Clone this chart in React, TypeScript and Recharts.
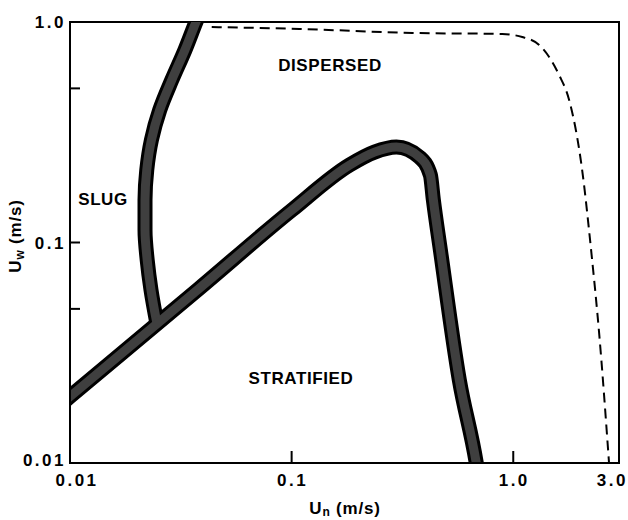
import React from "react";
import {
  LineChart,
  Line,
  XAxis,
  YAxis,
  ReferenceArea,
  Customized,
} from "recharts";

// slug / dispersed boundary
const slugUn = [0.0381, 0.037, 0.033, 0.0288, 0.0254, 0.0233, 0.0222, 0.0218, 0.0218, 0.0223, 0.0232, 0.0247];
const slugUw = [1.076, 1.0, 0.746, 0.546, 0.399, 0.2916, 0.2133, 0.156, 0.114, 0.0833, 0.0609, 0.0427];

// stratified boundary
const stratUn = [0.009, 0.01, 0.0385, 0.1, 0.1825, 0.2365, 0.297, 0.3773, 0.4227, 0.436, 0.469, 0.571, 0.681, 0.695];
const stratUw = [0.0183, 0.02, 0.0622, 0.14, 0.2246, 0.257, 0.271, 0.244, 0.2024, 0.156, 0.0925, 0.0238, 0.01, 0.0088];

// dashed limit
const dashUn = [0.0436, 0.1086, 0.351, 0.892, 1.098, 1.309, 1.452, 1.61, 1.787, 2.046, 2.245, 2.44, 2.705];
const dashUw = [0.949, 0.93, 0.892, 0.882, 0.855, 0.787, 0.694, 0.575, 0.443, 0.213, 0.0925, 0.0389, 0.01];

const xTicks = [0.01, 0.1, 1, 3];
const xTickLabels = ["0.01", "0.1", "1.0", "3.0"];
const yTicks = [0.01, 0.05, 0.1, 0.5, 1];
const yTickLabels: Record<string, string> = { "0.01": "0.01", "0.1": "0.1", "1": "1.0" };

const toPoints = (xs: number[], ys: number[]) => xs.map((x, i) => ({ x, y: ys[i] }));
const slugData = toPoints(slugUn, slugUw);
const stratData = toPoints(stratUn, stratUw);
const dashData = toPoints(dashUn, dashUw);

const FONT = "'Liberation Sans', Arial, Helvetica, sans-serif";
const BAND = "#3f3f3f";

const XTick = (props: any) => {
  const { x, y, payload } = props;
  const i = xTicks.indexOf(payload.value);
  const last = i === xTicks.length - 1;
  return (
    <g>
      <line x1={x} x2={x} y1={y} y2={y - 12} stroke="#000" strokeWidth={2} />
      <text
        x={last ? 628 : i === 0 ? x + 7 : x + 1}
        y={y + 23}
        textAnchor={last ? "end" : "middle"}
        fontFamily={FONT}
        fontWeight="bold"
        fontSize={17}
        letterSpacing={2.5}
        fill="#000"
      >
        {i >= 0 ? xTickLabels[i] : ""}
      </text>
    </g>
  );
};

const YTick = (props: any) => {
  const { x, y, payload } = props;
  const label = yTickLabels[String(payload.value)];
  return (
    <g>
      <line x1={x} x2={x + 10} y1={y} y2={y} stroke="#000" strokeWidth={2} />
      {label && (
        <text
          x={x - 4}
          y={payload.value === 0.01 ? y + 3 : y + 6}
          textAnchor="end"
          fontFamily={FONT}
          fontWeight="bold"
          fontSize={17}
          letterSpacing={2.5}
          fill="#000"
        >
          {label}
        </text>
      )}
    </g>
  );
};

const Labels = () => (
  <g fontFamily={FONT} fontWeight="bold" fill="#000">
    <text x={330} y={71} textAnchor="middle" fontSize={17} letterSpacing={0.6}>DISPERSED</text>
    <text x={301} y={384} textAnchor="middle" fontSize={17} letterSpacing={0.6}>STRATIFIED</text>
    <text x={103} y={205} textAnchor="middle" fontSize={17} letterSpacing={0.6}>SLUG</text>
    <text x={345} y={514} textAnchor="middle" fontSize={17} letterSpacing={0.8}>
      U<tspan fontSize={12} dy={2}>n</tspan>
      <tspan dy={-2}> (m/s)</tspan>
    </text>
    <text x={0} y={0} transform="translate(21,236) rotate(-90)" textAnchor="middle" fontSize={17} letterSpacing={0.8}>
      U<tspan fontSize={12} dy={3}>w</tspan>
      <tspan dy={-3}> (m/s)</tspan>
    </text>
  </g>
);

export default function App() {
  return (
    <div style={{ position: "absolute", left: 0, top: 0, background: "#fff" }}>
      <LineChart width={628} height={520} margin={{ top: 22, right: 9, bottom: 0, left: 0 }}>
        <XAxis
          type="number"
          dataKey="x"
          scale="log"
          domain={[0.01, 3]}
          ticks={xTicks}
          interval={0}
          allowDataOverflow
          height={57}
          tickSize={0}
          tickMargin={0}
          tickLine={false}
          axisLine={{ stroke: "#000", strokeWidth: 2 }}
          tick={<XTick />}
        />
        <YAxis
          type="number"
          dataKey="y"
          scale="log"
          domain={[0.01, 1]}
          ticks={yTicks}
          interval={0}
          allowDataOverflow
          width={70}
          tickSize={0}
          tickMargin={0}
          tickLine={false}
          axisLine={{ stroke: "#000", strokeWidth: 2 }}
          tick={<YTick />}
        />
        <ReferenceArea x1={0.01} x2={3} y1={0.01} y2={1} fill="none" stroke="#000" strokeWidth={2} ifOverflow="visible" />
        <Line data={dashData} dataKey="y" type="monotoneX" stroke="#000" strokeWidth={2} strokeDasharray="10 6" dot={false} activeDot={false} isAnimationActive={false} />
        <Line data={slugData} dataKey="y" type="monotoneY" stroke="#000" strokeWidth={15} dot={false} activeDot={false} isAnimationActive={false} />
        <Line data={stratData} dataKey="y" type="monotoneX" stroke="#000" strokeWidth={15} dot={false} activeDot={false} isAnimationActive={false} />
        <Line data={slugData} dataKey="y" type="monotoneY" stroke={BAND} strokeWidth={9} dot={false} activeDot={false} isAnimationActive={false} />
        <Line data={stratData} dataKey="y" type="monotoneX" stroke={BAND} strokeWidth={9} dot={false} activeDot={false} isAnimationActive={false} />
        <Customized component={Labels} />
      </LineChart>
    </div>
  );
}
